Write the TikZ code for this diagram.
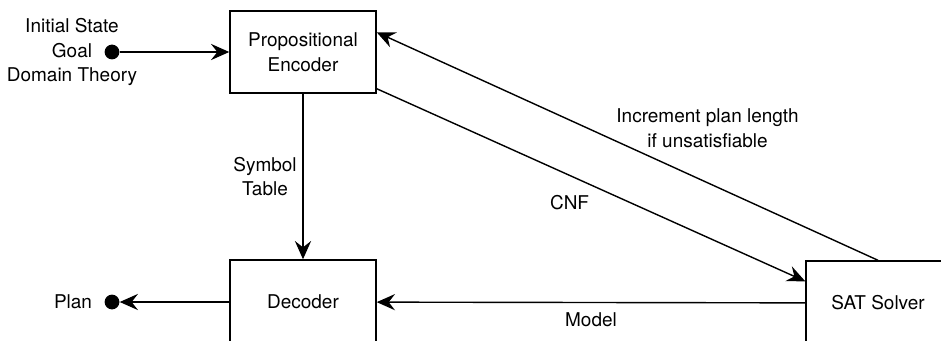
\documentclass[tikz,border=0pt]{standalone}
\usepackage{fontspec}
\setmainfont{TeX Gyre Heros}
\usetikzlibrary{arrows.meta}
\tikzset{
	block/.style={draw,line width=1pt,fill=white,inner sep=2pt,align=center,minimum width=3.65cm,minimum height=2.05cm},
	dot/.style={circle,fill=black,inner sep=0pt,minimum size=0.37cm},
	labl/.style={align=center,inner sep=4pt},
	flow/.style={line width=1pt,-{Stealth[length=13pt,width=11.5pt,inset=4.5pt]}},
	}

\begin{document}
\begin{tikzpicture}[x=0.025cm,y=-0.025cm,font=\fontsize{13.5}{17.4}\selectfont]
 \useasboundingbox (0,0) rectangle (941,341);
 \clip (0,0) rectangle (941,341);

\node (enc) at (303,52) [block] {Propositional\\Encoder};
\node (dec) at (303,302) [block,minimum height=2.1cm] {Decoder};
\node (sat) at (878,303) [block,minimum width=3.6cm,minimum height=2.1cm] {SAT Solver};

\node (intext) at (72,52) [labl] {Initial State\\Goal\\Domain Theory};
\node (indot) at (112,52) [dot] {};
\node (plantext) at (73,302) [labl] {Plan};
\node (plandot) at (112,302) [dot] {};

 \draw [flow] (indot) -- (enc);
 \draw [flow] (enc) -- node[labl,midway,left] {Symbol\\Table} (dec);
 \draw [flow] (dec) -- (plandot);
 \draw [flow] (sat) -- node[labl,midway,below=0.1cm] {Model} (dec);
 \draw [flow] ([yshift=0.125cm]enc.south east) -- node[labl,pos=0.45,below=0.35cm] {CNF} ([yshift=-0.525cm]sat.north west);
 \draw [flow] (sat.north) -- node[labl,pos=0.34,above=0.72cm] {Increment plan length\\if unsatisfiable} ([yshift=-0.55cm]enc.north east);
\end{tikzpicture}
\end{document}
